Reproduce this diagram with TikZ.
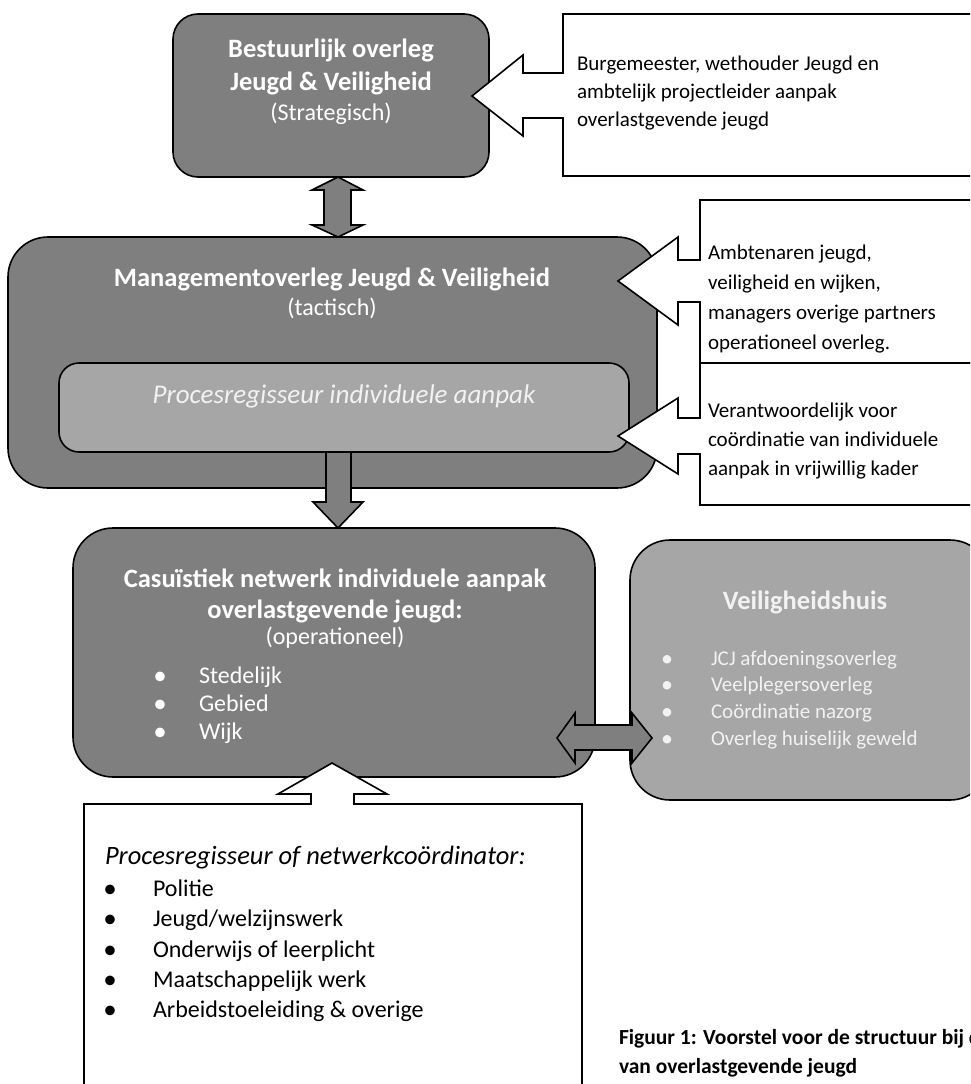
\documentclass[tikz,border=0pt]{standalone}
\usepackage{fontspec}
\setmainfont{Carlito}
\definecolor{darkbox}{HTML}{7F7F7F}
\definecolor{lightbox}{HTML}{A6A6A6}
\definecolor{paletext}{HTML}{F2F2F2}
\begin{document}
\begin{tikzpicture}[x=1pt,y=-1pt,
  every node/.style={inner sep=0pt, outer sep=0pt},
  edge/.style={draw=black, line width=1.6pt, line join=miter},
  rbox/.style={edge, fill=darkbox, rounded corners=#1, anchor=north west},
  callshape/.style={edge, fill=white},
  blockarrow/.style={edge, fill=darkbox},
  title/.style={anchor=base, text=white, font=\fontsize{26.5}{31}\selectfont\bfseries},
  subt/.style={anchor=base, text=white, font=\fontsize{24}{29}\selectfont},
  calltext/.style={anchor=base west, text=black, font=\fontsize{21}{28}\selectfont},
  bigtext/.style={anchor=base west, text=black, font=\fontsize{24}{30}\selectfont},
  bigbullet/.style={anchor=base, text=black, font=\fontsize{27}{27}\selectfont},
  boxitem/.style={anchor=base west, text=white, font=\fontsize{24}{30}\selectfont},
  boxbullet/.style={anchor=base, text=white, font=\fontsize{27}{27}\selectfont},
  vhitem/.style={anchor=base west, text=paletext, font=\fontsize{21}{27}\selectfont},
  vhbullet/.style={anchor=base, text=paletext, font=\fontsize{24}{24}\selectfont},
  caption/.style={anchor=base west, text=black, font=\fontsize{21.5}{28}\selectfont\bfseries}
]
\useasboundingbox (0,0) rectangle (970,1084);
\fill[white] (0,0) rectangle (970,1084);
\clip (0,0) rectangle (970,1084);

% ---------- Bestuurlijk overleg ----------
\node[rbox=25pt, minimum width=316pt, minimum height=163pt] (b1) at (173,14) {};
\node[title] (b1t1) at (331,57) {Bestuurlijk overleg};
\node[title] (b1t2) at (331,90) {Jeugd \& Veiligheid};
\node[subt] (b1t3) at (331,120) {(Strategisch)};

% callout 1
\path[callshape] (563,14) -- (990,14) -- (990,176) -- (563,176) -- (563,118)
  -- (523,118) -- (523,136) -- (472,96) -- (523,55) -- (523,73) -- (563,73) -- cycle;
\node[calltext] (c1a) at (577,70) {Burgemeester, wethouder Jeugd en};
\node[calltext] (c1b) at (577,98) {ambtelijk projectleider aanpak};
\node[calltext] (c1c) at (577,126) {overlastgevende jeugd};

% double arrow between level 1 and 2
\path[blockarrow] (338,177) -- (363,190) -- (351,190) -- (351,225) -- (363,225)
  -- (338,237) -- (312,225) -- (324,225) -- (324,190) -- (312,190) -- cycle;

% ---------- Managementoverleg ----------
\node[rbox=40pt, minimum width=649pt, minimum height=251pt] (b2) at (8,237) {};
\node[title] (b2t1) at (332,286) {Managementoverleg Jeugd \& Veiligheid};
\node[subt] (b2t2) at (332,315) {(tactisch)};
\node[rbox=20pt, fill=lightbox, minimum width=570pt, minimum height=89pt] (pr) at (59,363) {};
\node[anchor=base, text=paletext, font=\fontsize{27}{30}\selectfont\itshape] (prt) at (344,403) {Procesregisseur individuele aanpak};

% callout 2
\path[callshape] (700,200) -- (990,200) -- (990,363) -- (700,363) -- (700,302)
  -- (678,302) -- (678,325) -- (618,281) -- (678,237) -- (678,260) -- (700,260) -- cycle;
\node[calltext] (c2a) at (708,259) {Ambtenaren jeugd,};
\node[calltext] (c2b) at (708,289) {veiligheid en wijken,};
\node[calltext] (c2c) at (708,319) {managers overige partners};
\node[calltext] (c2d) at (708,349) {operationeel overleg.};

% callout 3
\path[callshape] (700,363) -- (990,363) -- (990,505) -- (700,505) -- (700,454)
  -- (678,454) -- (678,474) -- (618,436) -- (678,398) -- (678,418) -- (700,418) -- cycle;
\node[calltext] (c3a) at (708,417) {Verantwoordelijk voor};
\node[calltext] (c3b) at (708,446) {coördinatie van individuele};
\node[calltext] (c3c) at (708,475) {aanpak in vrijwillig kader};

% down arrow
\path[blockarrow] (326,452) -- (351,452) -- (351,502) -- (363,502) -- (338,528)
  -- (313,502) -- (326,502) -- cycle;

% ---------- Casuistiek netwerk ----------
\node[rbox=40pt, minimum width=522pt, minimum height=249pt] (b3) at (73,528) {};
\node[title] (b3t1) at (335,587) {Casuïstiek netwerk individuele aanpak};
\node[title] (b3t2) at (335,618) {overlastgevende jeugd:};
\node[subt] (b3t3) at (335,644) {(operationeel)};
\node[boxbullet] (b3u1) at (160,684) {•};
\node[boxitem] (b3i1) at (199,683) {Stedelijk};
\node[boxbullet] (b3u2) at (160,712) {•};
\node[boxitem] (b3i2) at (199,711) {Gebied};
\node[boxbullet] (b3u3) at (160,740) {•};
\node[boxitem] (b3i3) at (199,739) {Wijk};

% ---------- Veiligheidshuis ----------
\node[rbox=40pt, fill=lightbox, minimum width=360pt, minimum height=260pt] (vh) at (630,540) {};
\node[title, text=paletext] (vht) at (805,609) {Veiligheidshuis};
\node[vhbullet] (vhu1) at (667,666) {•};
\node[vhitem] (vhi1) at (711,665) {JCJ afdoeningsoverleg};
\node[vhbullet] (vhu2) at (667,692) {•};
\node[vhitem] (vhi2) at (711,691) {Veelplegersoverleg};
\node[vhbullet] (vhu3) at (667,719) {•};
\node[vhitem] (vhi3) at (711,718) {Coördinatie nazorg};
\node[vhbullet] (vhu4) at (667,746) {•};
\node[vhitem] (vhi4) at (711,745) {Overleg huiselijk geweld};

% horizontal double arrow
\path[blockarrow] (557,738) -- (575,713) -- (575,725) -- (632,725) -- (632,713)
  -- (652,738) -- (632,763) -- (632,750) -- (575,750) -- (575,763) -- cycle;

% ---------- bottom callout ----------
\path[callshape] (84,1100) -- (84,804) -- (311,804) -- (311,794) -- (278,794)
  -- (332,763) -- (387,794) -- (354,794) -- (354,804) -- (582,804) -- (582,1100) -- cycle;
\node[bigtext, font=\fontsize{26.5}{30}\selectfont\itshape] (pnh) at (105,864) {Procesregisseur of netwerkcoördinator:};
\node[bigbullet] (pnu1) at (110,897) {•};
\node[bigtext] (pni1) at (153,896) {Politie};
\node[bigbullet] (pnu2) at (110,927) {•};
\node[bigtext] (pni2) at (153,926) {Jeugd/welzijnswerk};
\node[bigbullet] (pnu3) at (110,958) {•};
\node[bigtext] (pni3) at (153,957) {Onderwijs of leerplicht};
\node[bigbullet] (pnu4) at (110,988) {•};
\node[bigtext] (pni4) at (153,987) {Maatschappelijk werk};
\node[bigbullet] (pnu5) at (110,1018) {•};
\node[bigtext] (pni5) at (153,1017) {Arbeidstoeleiding \& overige};

% caption
\node[caption] (cap1) at (619,1044) {Figuur 1: Voorstel voor de structuur bij d};
\node[caption] (cap2) at (619,1073) {van overlastgevende jeugd};
\end{tikzpicture}
\end{document}
